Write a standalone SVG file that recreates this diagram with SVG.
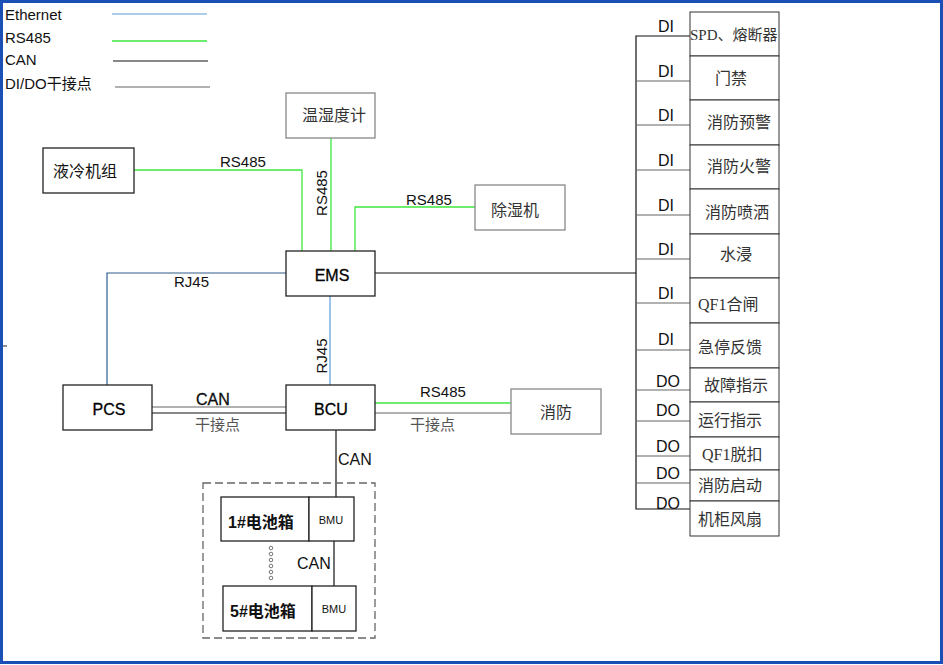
<svg xmlns="http://www.w3.org/2000/svg" width="943" height="665" viewBox="0 0 943 665">
<style>
.bg{fill:#fff}
.frame{fill:none;stroke:#1a4fb5;stroke-width:3}
.box{fill:#fff;stroke:#222;stroke-width:1.3}
.gbox{fill:#fff;stroke:#888;stroke-width:1.3}
.rbox{fill:#fff;stroke:#333;stroke-width:1}
.eth{fill:none;stroke:#5b9bd5;stroke-width:1.2}
.eth2{fill:none;stroke:#2e5c8a;stroke-width:1.2}
.rs{fill:none;stroke:#3ee63e;stroke-width:1.3}
.can{fill:none;stroke:#111;stroke-width:1.2}
.dry{fill:none;stroke:#666;stroke-width:1.2}
.t{font-family:"Liberation Sans","Noto Sans CJK SC",sans-serif;font-size:15px;fill:#111}
.tb{font-family:"Liberation Sans","Noto Sans CJK SC",sans-serif;font-size:16px;fill:#000;stroke:#000;stroke-width:0.3}
.cn{font-family:"Liberation Serif","Noto Sans CJK SC",serif;font-size:16px;fill:#333}
.cnk{font-family:"Liberation Sans","Noto Sans CJK SC",sans-serif;font-size:16px;fill:#111}
.gr{font-family:"Liberation Sans","Noto Sans CJK SC",sans-serif;font-size:15px;fill:#555}
.sm{font-family:"Liberation Sans",sans-serif;font-size:11px;fill:#111}
.m{text-anchor:middle}
.dash{fill:none;stroke:#666;stroke-width:1.3;stroke-dasharray:8,4}
.dot{fill:#fff;stroke:#555;stroke-width:0.8}
</style>
<rect class="bg" x="0" y="0" width="943" height="665"/>
<rect class="frame" x="1.5" y="1.5" width="940" height="661"/>
<line x1="3" y1="346" x2="7" y2="346" stroke="#222" stroke-width="1"/>

<g id="legend">
<text class="t" x="5" y="20">Ethernet</text>
<line class="eth" x1="112" y1="14" x2="207" y2="14"/>
<text class="t" x="5" y="43">RS485</text>
<line class="rs" x1="112" y1="41" x2="207" y2="41"/>
<text class="t" x="5" y="65">CAN</text>
<line class="can" x1="113" y1="61" x2="208" y2="61"/>
<text class="t" x="5" y="89">DI/DO干接点</text>
<line class="dry" x1="115" y1="87" x2="210" y2="87"/>
</g>

<g id="connectors">
<polyline class="rs" points="134,170 302,170 302,251"/>
<line class="rs" x1="331" y1="137" x2="331" y2="251"/>
<polyline class="rs" points="475,207 355,207 355,251"/>
<polyline class="eth2" points="286,273 107,273 107,385"/>
<line class="eth" x1="330" y1="296" x2="330" y2="385"/>
<line class="can" x1="375" y1="273" x2="636" y2="273"/>
<line class="dry" x1="152" y1="407" x2="286" y2="407"/>
<line class="can" x1="152" y1="413" x2="286" y2="413"/>
<line class="rs" x1="375" y1="403" x2="511" y2="403"/>
<line class="dry" x1="375" y1="413" x2="511" y2="413"/>
<line class="can" x1="336" y1="430" x2="336" y2="497"/>
<line class="can" x1="334" y1="541" x2="334" y2="586"/>
<polyline class="can" points="690,36 636,36 636,509 690,509"/>
<g class="dry">
<line x1="636" y1="81" x2="690" y2="81"/>
<line x1="636" y1="125" x2="690" y2="125"/>
<line x1="636" y1="170" x2="690" y2="170"/>
<line x1="636" y1="215" x2="690" y2="215"/>
<line x1="636" y1="259" x2="690" y2="259"/>
<line x1="636" y1="303" x2="690" y2="303"/>
<line x1="636" y1="350" x2="690" y2="350"/>
<line x1="636" y1="390" x2="690" y2="390"/>
<line x1="636" y1="421" x2="690" y2="421"/>
<line x1="636" y1="456" x2="690" y2="456"/>
<line x1="636" y1="483" x2="690" y2="483"/>
</g>
<text class="t" x="220" y="167">RS485</text>
<text class="t" x="406" y="205">RS485</text>
<text class="t" transform="translate(327,193) rotate(-90)" text-anchor="middle">RS485</text>
<text class="t" x="174" y="287">RJ45</text>
<text class="t" transform="translate(327,356) rotate(-90)" text-anchor="middle">RJ45</text>
<text class="t" x="196" y="405" style="font-size:16px;stroke:#000;stroke-width:0.3">CAN</text>
<text class="gr" x="195" y="430">干接点</text>
<text class="t" x="420" y="397">RS485</text>
<text class="gr" x="410" y="430">干接点</text>
<text class="t" x="338" y="465" style="font-size:16px">CAN</text>
<text class="t" x="297" y="569" style="font-size:16px">CAN</text>
<g class="t" style="font-size:16px">
<text x="658" y="32">DI</text>
<text x="658" y="77">DI</text>
<text x="658" y="121">DI</text>
<text x="658" y="166">DI</text>
<text x="658" y="211">DI</text>
<text x="658" y="255">DI</text>
<text x="658" y="299">DI</text>
<text x="658" y="345">DI</text>
<text x="656" y="387">DO</text>
<text x="656" y="416">DO</text>
<text x="656" y="452">DO</text>
<text x="656" y="479">DO</text>
<text x="656" y="509">DO</text>
</g>
</g>

<g id="n-wsd"><rect class="gbox" x="286" y="93" width="89" height="45"/><text class="cn m" x="334" y="121">温湿度计</text></g>
<g id="n-ylj"><rect class="box" x="43" y="148" width="91" height="45"/><text class="cnk" x="53" y="177">液冷机组</text></g>
<g id="n-csj"><rect class="gbox" x="475" y="185" width="90" height="45"/><text class="cn" x="491" y="216">除湿机</text></g>
<g id="n-ems"><rect class="box" x="286" y="251" width="89" height="45"/><text class="tb m" x="332" y="281">EMS</text></g>
<g id="n-pcs"><rect class="box" x="63" y="385" width="89" height="45"/><text class="tb m" x="109" y="415">PCS</text></g>
<g id="n-bcu"><rect class="box" x="286" y="385" width="89" height="45"/><text class="tb m" x="331" y="415">BCU</text></g>
<g id="n-xf"><rect class="gbox" x="511" y="389" width="90" height="45"/><text class="cn" x="540" y="418">消防</text></g>

<g id="n-battery">
<rect class="dash" x="203" y="483" width="172" height="155"/>
<g id="n-b1"><rect class="box" x="221" y="497" width="88" height="44"/><text class="cnk" x="228" y="528" style="font-weight:bold">1#电池箱</text></g>
<g id="n-bmu1"><rect class="box" x="309" y="497" width="45" height="44"/><text class="sm m" x="331" y="524">BMU</text></g>
<g id="n-b5"><rect class="box" x="223" y="586" width="89" height="45"/><text class="cnk" x="230" y="617" style="font-weight:bold">5#电池箱</text></g>
<g id="n-bmu5"><rect class="box" x="312" y="586" width="44" height="45"/><text class="sm m" x="334" y="613">BMU</text></g>
<g>
<circle class="dot" cx="271" cy="548" r="1.8"/>
<circle class="dot" cx="271" cy="554" r="1.8"/>
<circle class="dot" cx="271" cy="560" r="1.8"/>
<circle class="dot" cx="271" cy="566" r="1.8"/>
<circle class="dot" cx="271" cy="572" r="1.8"/>
<circle class="dot" cx="271" cy="578" r="1.8"/>
</g>
</g>

<g id="right-boxes">
<g id="r1"><rect class="rbox" x="690" y="12" width="89" height="44"/><text class="cn" x="690" y="40" style="font-size:15px">SPD、熔断器</text></g>
<g id="r2"><rect class="rbox" x="690" y="56" width="89" height="44"/><text class="cn" x="715" y="84">门禁</text></g>
<g id="r3"><rect class="rbox" x="690" y="100" width="89" height="45"/><text class="cn" x="707" y="128">消防预警</text></g>
<g id="r4"><rect class="rbox" x="690" y="145" width="89" height="44"/><text class="cn" x="707" y="172">消防火警</text></g>
<g id="r5"><rect class="rbox" x="690" y="189" width="89" height="45"/><text class="cn" x="705" y="218">消防喷洒</text></g>
<g id="r6"><rect class="rbox" x="690" y="234" width="89" height="44"/><text class="cn" x="720" y="260">水浸</text></g>
<g id="r7"><rect class="rbox" x="690" y="278" width="89" height="45"/><text class="cn" x="698" y="310">QF1合闸</text></g>
<g id="r8"><rect class="rbox" x="690" y="323" width="89" height="45"/><text class="cn" x="698" y="353">急停反馈</text></g>
<g id="r9"><rect class="rbox" x="690" y="368" width="89" height="34"/><text class="cn" x="704" y="391">故障指示</text></g>
<g id="r10"><rect class="rbox" x="690" y="402" width="89" height="35"/><text class="cn" x="698" y="426">运行指示</text></g>
<g id="r11"><rect class="rbox" x="690" y="437" width="89" height="33"/><text class="cn" x="702" y="460">QF1脱扣</text></g>
<g id="r12"><rect class="rbox" x="690" y="470" width="89" height="31"/><text class="cn" x="698" y="491">消防启动</text></g>
<g id="r13"><rect class="rbox" x="690" y="501" width="89" height="35"/><text class="cn" x="698" y="525">机柜风扇</text></g>
</g>
</svg>
